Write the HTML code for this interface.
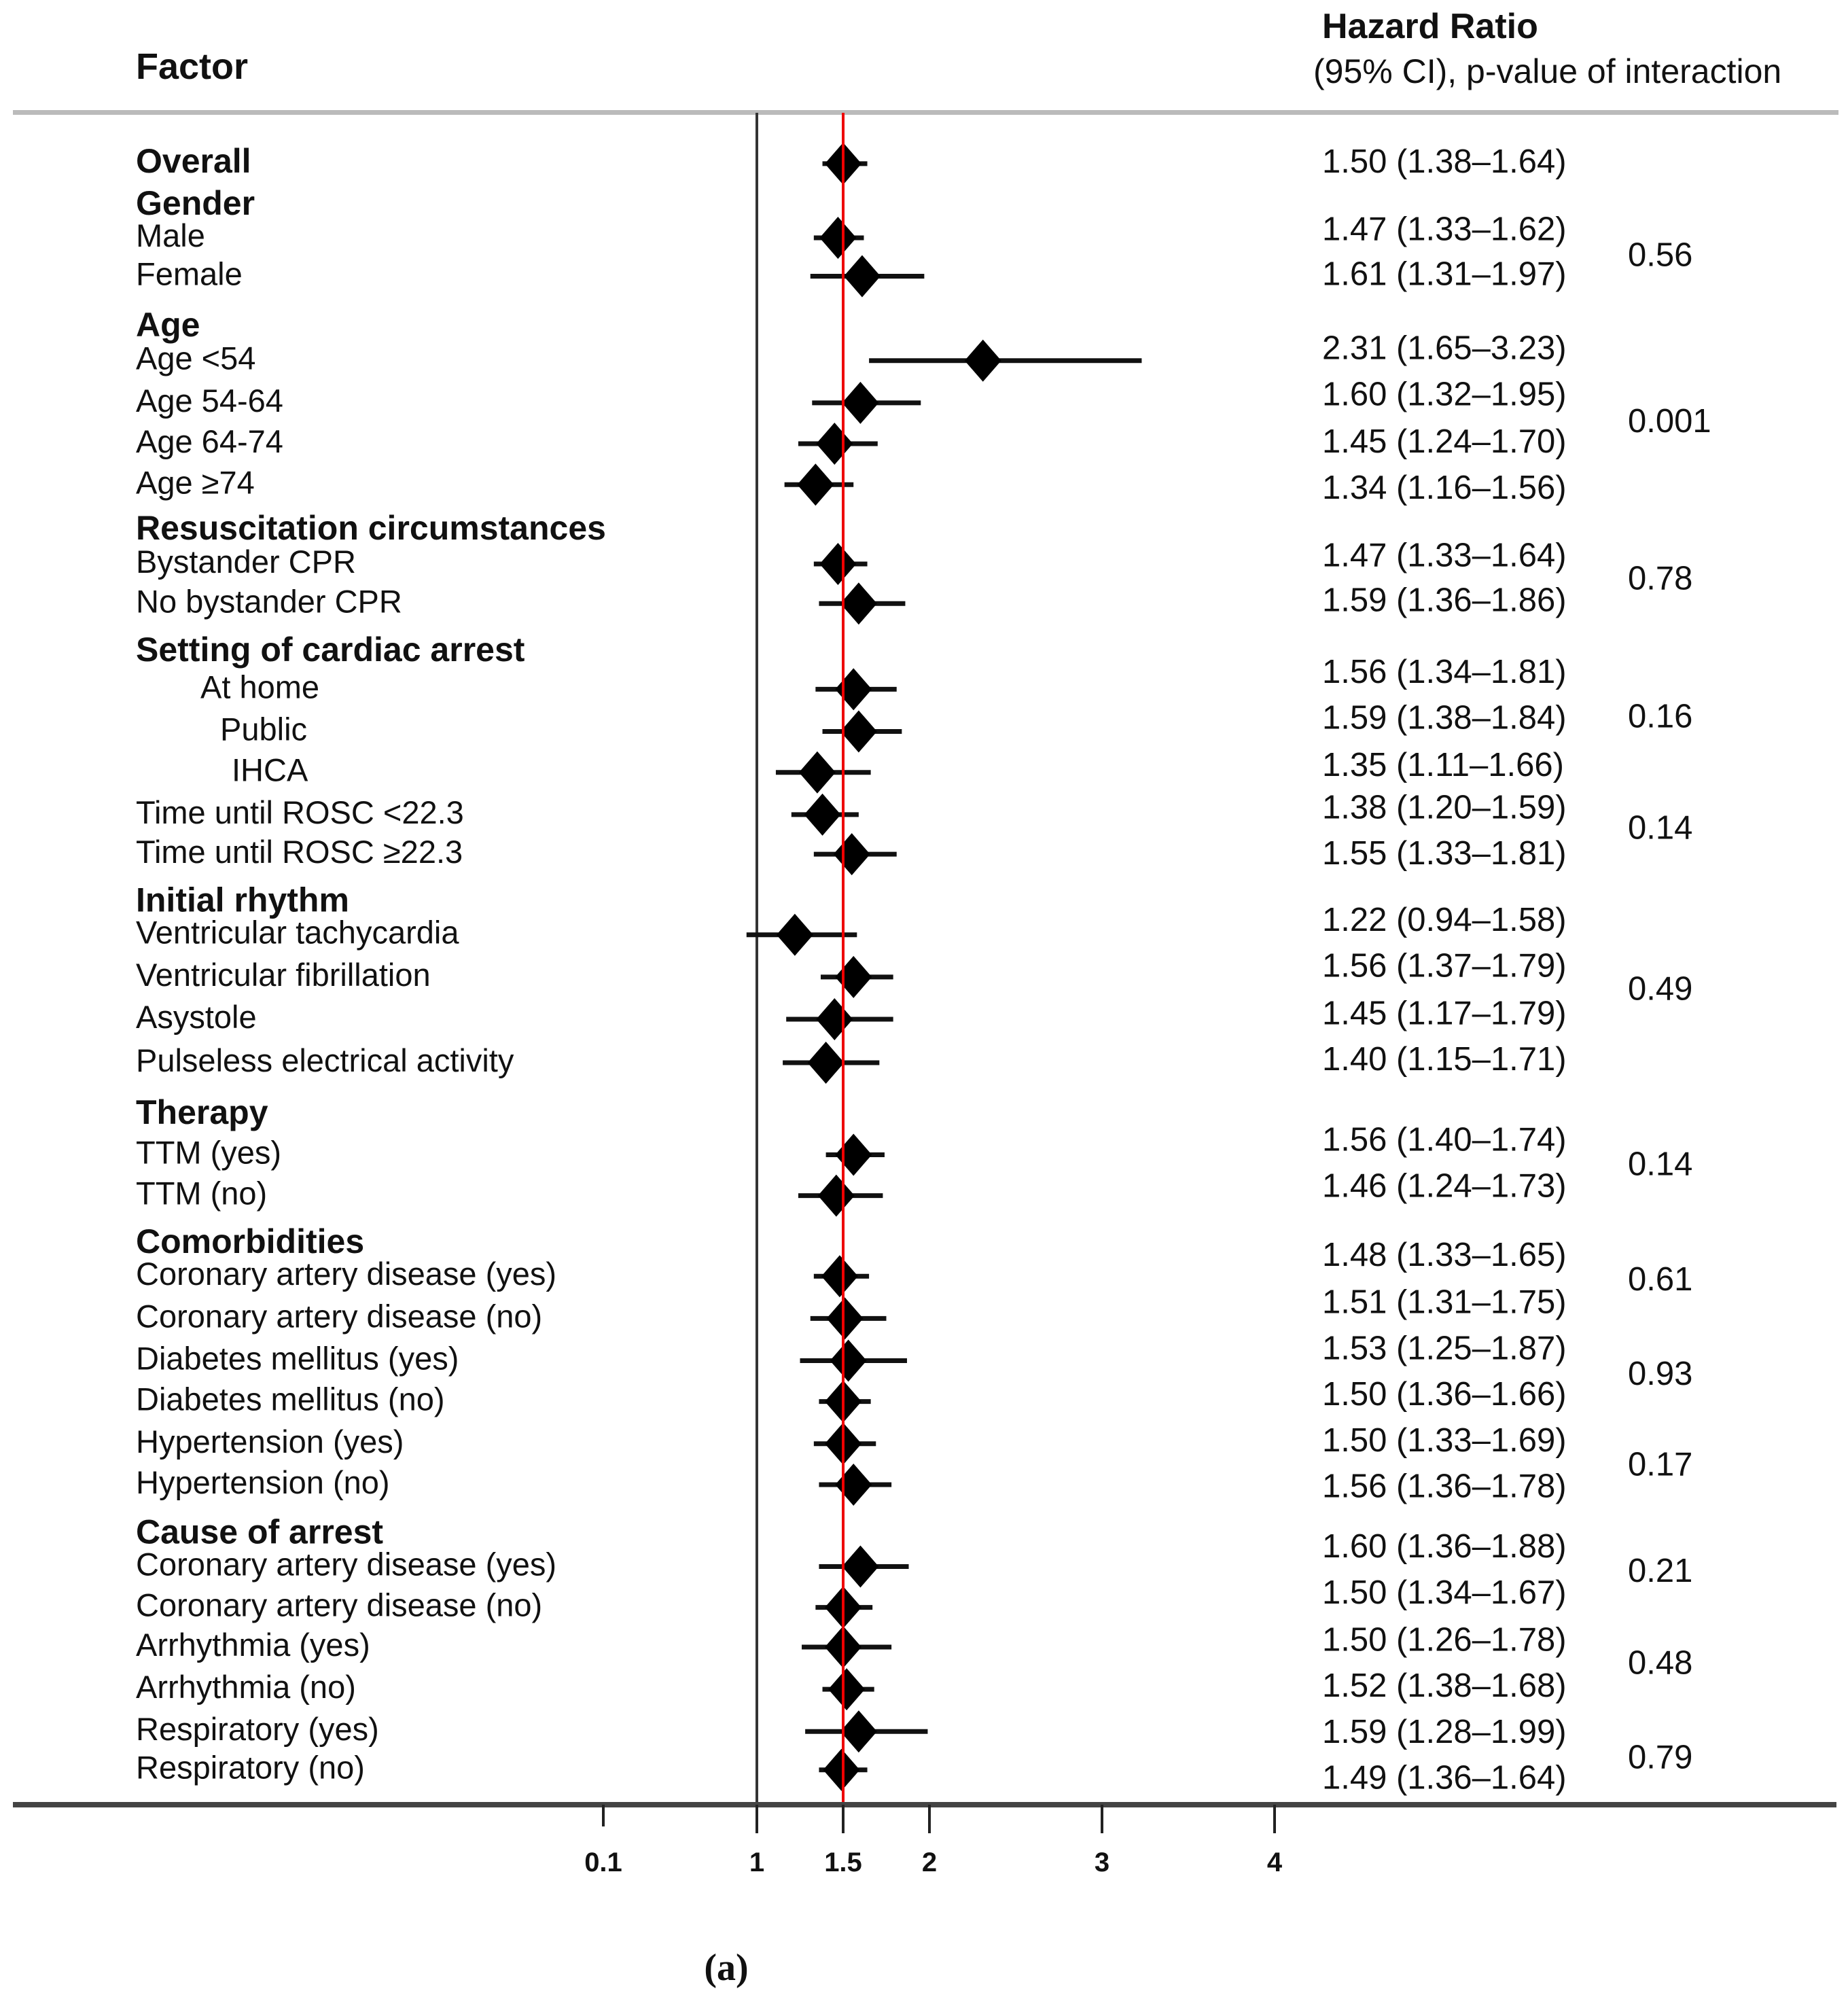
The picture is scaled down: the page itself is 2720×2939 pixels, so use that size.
<!DOCTYPE html>
<html><head><meta charset="utf-8"><style>
html,body{margin:0;padding:0;background:#fff;}
svg{display:block;}
text{font-family:"Liberation Sans",sans-serif;fill:#111;}
</style></head><body>
<svg id="chart" width="2720" height="2939" viewBox="0 0 2720 2939" xmlns="http://www.w3.org/2000/svg">
<text x="200" y="116" font-size="54" font-weight="bold">Factor</text>
<text x="1946" y="56" font-size="52" font-weight="bold">Hazard Ratio</text>
<text x="1933" y="122" font-size="50">(95% CI), p-value of interaction</text>
<rect x="19" y="162" width="2687" height="7" fill="#bbb"/>
<line x1="1114" y1="166" x2="1114" y2="2657" stroke="#333" stroke-width="4"/>
<g id="marks"></g>
<rect x="19" y="2652" width="2684" height="8" fill="#444"/>
<g id="axis"></g>
<text x="1069" y="2914" font-size="56" font-weight="bold" text-anchor="middle" style="font-family:'Liberation Serif',serif">(a)</text>
</svg>
<script>
const labels = ["Overall","Gender","Male","Female","Age","Age <54","Age 54-64","Age 64-74","Age \u226574","Resuscitation circumstances","Bystander CPR","No bystander CPR","Setting of cardiac arrest","At home","Public","IHCA","Time until ROSC <22.3","Time until ROSC \u226522.3","Initial rhythm","Ventricular tachycardia","Ventricular fibrillation","Asystole","Pulseless electrical activity","Therapy","TTM (yes)","TTM (no)","Comorbidities","Coronary artery disease (yes)","Coronary artery disease (no)","Diabetes mellitus (yes)","Diabetes mellitus (no)","Hypertension (yes)","Hypertension (no)","Cause of arrest","Coronary artery disease (yes)","Coronary artery disease (no)","Arrhythmia (yes)","Arrhythmia (no)","Respiratory (yes)","Respiratory (no)"];
const isHeader = [1,1,0,0,1,0,0,0,0,1,0,0,1,0,0,0,0,0,1,0,0,0,0,1,0,0,1,0,0,0,0,0,0,1,0,0,0,0,0,0];
const hr = [1.50,null,1.47,1.61,null,2.31,1.60,1.45,1.34,null,1.47,1.59,null,1.56,1.59,1.35,1.38,1.55,null,1.22,1.56,1.45,1.40,null,1.56,1.46,null,1.48,1.51,1.53,1.50,1.50,1.56,null,1.60,1.50,1.50,1.52,1.59,1.49];
const lo = [1.38,null,1.33,1.31,null,1.65,1.32,1.24,1.16,null,1.33,1.36,null,1.34,1.38,1.11,1.20,1.33,null,0.94,1.37,1.17,1.15,null,1.40,1.24,null,1.33,1.31,1.25,1.36,1.33,1.36,null,1.36,1.34,1.26,1.38,1.28,1.36];
const hi = [1.64,null,1.62,1.97,null,3.23,1.95,1.70,1.56,null,1.64,1.86,null,1.81,1.84,1.66,1.59,1.81,null,1.58,1.79,1.79,1.71,null,1.74,1.73,null,1.65,1.75,1.87,1.66,1.69,1.78,null,1.88,1.67,1.78,1.68,1.99,1.64];
const pValues = ["0.56","0.001","0.78","0.16","0.14","0.49","0.14","0.61","0.93","0.17","0.21","0.48","0.79"];
const tickValues = [1,1.5,2,3,4];
const tickLabels = ["1","1.5","2","3","4"];
// layout (pixel rows)
const rowY = [128,161,186,216,256,282,315,347,379,415,441,472,510,539,572,604,637,668,706,731,764,797,831,872,903,935,973,998,1031,1064,1096,1129,1161,1200,1225,1257,1288,1321,1354,1384].map(v=>v*1.882);
const hrTextY = [128,181,216,274,310,347,383,436,471,527,563,600,633,669,721,757,794,830,893,929,983,1020,1056,1092,1128,1164,1211,1247,1284,1320,1356,1392].map(v=>v*1.882);
const pY = [201,331,454,562,649,775,912,1002,1076,1147,1230,1302,1376].map(v=>v*1.882);
const indent = {13:295,14:324,15:341};
const NS="http://www.w3.org/2000/svg";
const x = v => 1114 + (v-1)*254;
function mk(tag, attrs, parent){const e=document.createElementNS(NS,tag);for(const k in attrs)e.setAttribute(k,attrs[k]);parent.appendChild(e);return e;}
const marks=document.getElementById('marks'), axis=document.getElementById('axis'), svg=document.getElementById('chart');
const f2 = v => v.toFixed(2);
let k=0;
labels.forEach((lab,i)=>{
  const t=mk('text',{x:indent[i]||200,y:rowY[i]+13,'font-size':isHeader[i]?50:47,'font-weight':isHeader[i]?'bold':'normal'},svg);
  
  
  t.textContent=lab;
  if(hr[i]!==null){
    const y=rowY[i];
    const l=mk('line',{x1:x(lo[i]),x2:x(hi[i]),y1:y,y2:y,stroke:'#111','stroke-width':7},marks);
    
    
    const cx=x(hr[i]);
    const d=mk('polygon',{points:`${cx-27},${y} ${cx},${y-31} ${cx+27},${y} ${cx},${y+31}`,fill:'#000'},marks);
    
    
    const ht=mk('text',{x:1946,y:hrTextY[k]+13,'font-size':49},svg);
    
    
    ht.textContent=`${f2(hr[i])} (${f2(lo[i])}\u2013${f2(hi[i])})`;
    k++;
  }
});
const red=mk('line',{x1:x(1.5),x2:x(1.5),y1:166,y2:2657,stroke:'#e00','stroke-width':4},marks);


pValues.forEach((p,i)=>{
  const t=mk('text',{x:2396,y:pY[i]+13,'font-size':49},svg);
  
  
  t.textContent=p;
});
// 0.1 tick (placed off-scale as in source)
const t01=mk('line',{x1:888,x2:888,y1:2656,y2:2688,stroke:'#222','stroke-width':4},axis);


const l01=mk('text',{x:888,y:2754,'font-size':40,'font-weight':'bold','text-anchor':'middle'},axis);


l01.textContent='0.1';
tickValues.forEach((v,i)=>{
  const tl=mk('line',{x1:x(v),x2:x(v),y1:2656,y2:2698,stroke:'#222','stroke-width':4},axis);
  
  
  const tx=mk('text',{x:x(v),y:2754,'font-size':40,'font-weight':'bold','text-anchor':'middle'},axis);
  
  
  tx.textContent=tickLabels[i];
});
</script>
</body></html>
